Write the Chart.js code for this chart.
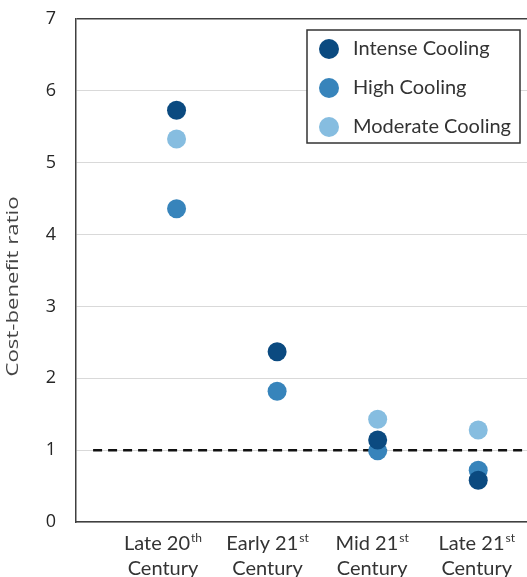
<!DOCTYPE html>
<html>
<head>
<meta charset="utf-8">
<script src="https://cdn.jsdelivr.net/npm/chart.js@4/dist/chart.umd.min.js"></script>
<style>
  html, body { margin: 0; padding: 0; background: #fff; overflow: hidden; }
  #wrap { width: 538px; height: 577px; position: relative; }
</style>
</head>
<body>
<div id="wrap"><canvas id="chart"></canvas></div>
<script>
// periods along the x axis (position 1..4)
const periodMain = ['Late 20', 'Early 21', 'Mid 21', 'Late 21'];
const periodSup = ['th', 'st', 'st', 'st'];
const periodLine2 = 'Century';

const seriesNames = ['Intense Cooling', 'High Cooling', 'Moderate Cooling'];
const intenseCooling = [5.73, 2.37, 1.14, 0.58];
const highCooling = [4.36, 1.82, 0.99, 0.72];
const moderateCooling = [5.33, null, 1.43, 1.28];
const breakEven = 1;
const yTitle = 'Cost-benefit ratio';

const colors = ['#0b4a80', '#3784bb', '#86bde0'];
const fontFamily = 'Lato, "Open Sans", sans-serif';
// the category text sits on a slightly wider pitch than the markers
const labelStart = 0.865, labelStep = 1.04;

function toPoints(values) {
  return values.map((v, i) => ({x: i + 1, y: v})).filter(p => p.y !== null);
}

const seriesValues = [intenseCooling, highCooling, moderateCooling];
const datasets = seriesValues.map((vals, i) => ({
  type: 'scatter',
  label: seriesNames[i],
  data: toPoints(vals),
  backgroundColor: colors[i],
  borderColor: colors[i],
  pointRadius: 9.5,
  pointHoverRadius: 9.5,
  borderWidth: 0,
}));
datasets.push({
  type: 'line',
  label: 'break-even',
  data: [{x: 0.17, y: breakEven}, {x: 4.5, y: breakEven}],
  borderColor: '#111',
  borderWidth: 2.5,
  borderDash: [9, 6],
  pointRadius: 0,
  fill: false,
});

// x labels with real superscripts, plus the y title
const axisText = {
  id: 'axisText',
  afterDraw(chart) {
    const ctx = chart.ctx;
    const xs = chart.scales.x;
    const area = chart.chartArea;
    const bottom = area.bottom;
    ctx.save();
    ctx.fillStyle = '#333';
    ctx.textBaseline = 'middle';
    periodMain.forEach((main, i) => {
      const cx = xs.getPixelForValue(labelStart + i * labelStep);
      ctx.font = '20px ' + fontFamily;
      const w1 = ctx.measureText(main).width;
      ctx.font = '12px ' + fontFamily;
      const w2 = ctx.measureText(periodSup[i]).width;
      const start = cx - (w1 + w2 + 1) / 2;
      ctx.textAlign = 'left';
      ctx.font = '20px ' + fontFamily;
      ctx.fillText(main, start, bottom + 22);
      ctx.font = '12px ' + fontFamily;
      ctx.fillText(periodSup[i], start + w1 + 1, bottom + 16);
      ctx.font = '20px ' + fontFamily;
      ctx.textAlign = 'center';
      ctx.fillText(periodLine2, cx, bottom + 47);
    });

    // y title, stretched along its length like the original
    ctx.font = '17px "Open Sans", sans-serif';
    const stretch = 180 / ctx.measureText(yTitle).width;
    ctx.translate(13, (area.top + area.bottom) / 2 + 16);
    ctx.rotate(-Math.PI / 2);
    ctx.scale(stretch, 1);
    ctx.textAlign = 'center';
    ctx.fillStyle = '#444';
    ctx.fillText(yTitle, 0, 0);
    ctx.restore();
  }
};

// boxed legend inside the plot
const boxLegend = {
  id: 'boxLegend',
  afterDraw(chart) {
    const ctx = chart.ctx;
    const area = chart.chartArea;
    const boxW = 213, boxH = 113;
    const left = 307;
    const top = area.top + 11;
    ctx.save();
    ctx.fillStyle = '#fff';
    ctx.fillRect(left, top, boxW, boxH);
    ctx.strokeStyle = '#333';
    ctx.lineWidth = 1.5;
    ctx.strokeRect(left, top, boxW, boxH);
    ctx.font = '20px ' + fontFamily;
    ctx.textBaseline = 'middle';
    ctx.textAlign = 'left';
    seriesNames.forEach((name, i) => {
      const y = top + 19 + i * 39;
      ctx.fillStyle = colors[i];
      ctx.beginPath();
      ctx.arc(left + 22, y, 10, 0, Math.PI * 2);
      ctx.fill();
      ctx.fillStyle = '#333';
      ctx.fillText(name, left + 46, y);
    });
    ctx.restore();
  }
};

new Chart(document.getElementById('chart').getContext('2d'), {
  data: {datasets},
  plugins: [axisText, boxLegend],
  options: {
    responsive: true,
    maintainAspectRatio: false,
    animation: false,
    layout: {padding: {top: 19, right: 0, left: 0, bottom: 0}},
    plugins: {
      legend: {display: false},
      tooltip: {enabled: false},
    },
    scales: {
      x: {
        type: 'linear',
        min: 0,
        max: 4.5,
        ticks: {display: false},
        grid: {display: false, drawTicks: false},
        border: {display: true, color: '#404040', width: 1.5},
        afterFit(scale) { scale.height = 55; },
      },
      y: {
        min: 0,
        max: 7,
        ticks: {
          stepSize: 1,
          color: '#262626',
          padding: 20,
          font: {family: '"Open Sans", sans-serif', size: 18},
        },
        grid: {
          drawTicks: false,
          color: ctx => (ctx.tick && ctx.tick.value === 7) ? '#404040' : '#d9d9d9',
          lineWidth: ctx => (ctx.tick && ctx.tick.value === 7) ? 1.5 : 1,
        },
        border: {display: true, color: '#404040', width: 1.5},
        afterFit(scale) {
          scale.width = 76;
          scale.paddingTop = 0;
          scale.paddingBottom = 0;
        },
      },
    },
  },
});
</script>
</body>
</html>
